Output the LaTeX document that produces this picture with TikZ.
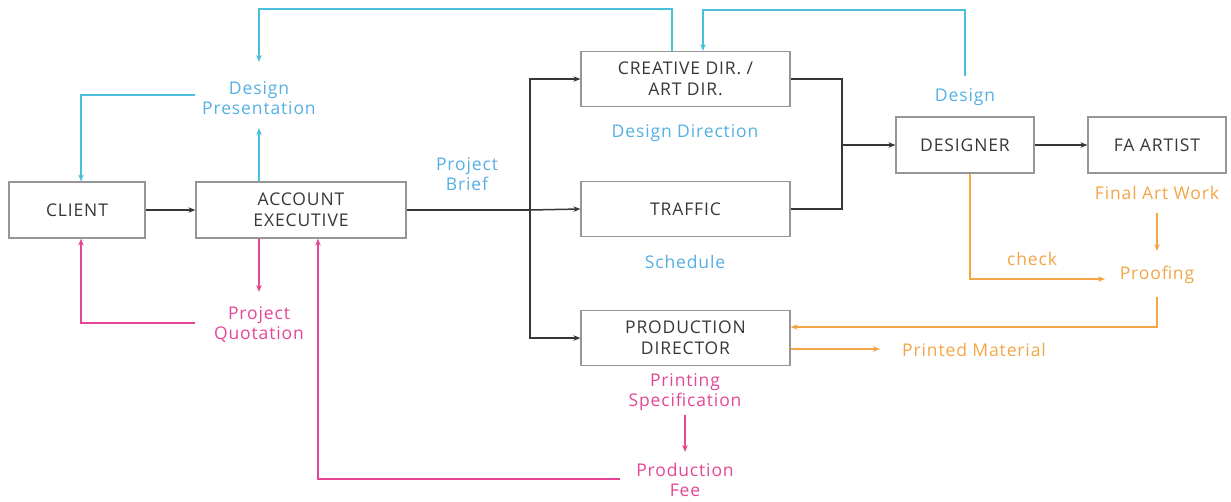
\documentclass[tikz,border=0pt]{standalone}
\usepackage{fontspec}
\setmainfont[LetterSpace=5]{Open Sans}
\usetikzlibrary{arrows.meta,calc}
\definecolor{cyl}{RGB}{75,190,220}
\definecolor{cyt}{RGB}{85,175,228}
\definecolor{pk}{RGB}{228,70,150}
\definecolor{orl}{RGB}{243,165,70}
\definecolor{bx}{RGB}{150,150,150}
\definecolor{tx}{RGB}{55,55,55}
\begin{document}
\begin{tikzpicture}[x=1pt,y=-1pt,
  box/.style={draw=bx,line width=1.2pt,text=tx,align=center,font=\fontsize{17.5}{21}\selectfont,inner sep=0pt},
  lbl/.style={align=center,font=\fontsize{17.5}{20}\selectfont,inner sep=0pt},
  arr/.style={-{Stealth[length=7pt,width=5.5pt]}},
  blk/.style={draw=tx,line width=1.5pt},
  cy/.style={draw=cyl,line width=1.5pt},
  pkl/.style={draw=pk,line width=1.5pt},
  ol/.style={draw=orl,line width=1.5pt}]
\useasboundingbox (0,0) rectangle (1231,501);
% boxes
\node[box,minimum width=136pt,minimum height=56pt] (client) at (77,210) {CLIENT};
\node[box,minimum width=210pt,minimum height=56pt] (ae) at (301,210) {ACCOUNT\\EXECUTIVE};
\node[box,minimum width=209pt,minimum height=55pt] (cd) at (685.5,79) {CREATIVE DIR. /\\ART DIR.};
\node[box,minimum width=209pt,minimum height=55pt] (tr) at (685.5,209) {TRAFFIC};
\node[box,minimum width=209pt,minimum height=55pt] (pd) at (685.5,338) {PRODUCTION\\DIRECTOR};
\node[box,minimum width=138pt,minimum height=56pt] (des) at (965,145) {DESIGNER};
\node[box,minimum width=138pt,minimum height=56pt] (fa) at (1157,145) {FA ARTIST};
% labels
\node[lbl,text=cyt] (dp) at (259,98) {Design\\Presentation};
\node[lbl,text=pk] (pq) at (259,325) {Project\\Quotation};
\node[lbl,text=cyt] (pb) at (467,174) {Project\\Brief};
\node[lbl,text=cyt] (dd) at (685,133) {Design Direction};
\node[lbl,text=cyt] (sch) at (685,262) {Schedule};
\node[lbl,text=pk] (ps) at (685,392) {Printing\\Specification};
\node[lbl,text=pk] (pf) at (685,480) {Production\\Fee};
\node[lbl,text=cyt] (dsg) at (965,97) {Design};
\node[lbl,text=orl] (faw) at (1157,193) {Final Art Work};
\node[lbl,text=orl] (pr) at (1157,275) {Proofing};
\node[lbl,text=orl] (chk) at (1032,259) {check};
\node[lbl,text=orl] (pm) at (974,350) {Printed Material};
% connector ends
\coordinate (dpB) at (259,128);
\coordinate (dpT) at (259,62);
\coordinate (dpL) at (195,95);
\coordinate (pqT) at (259,292);
\coordinate (pqL) at (195,323);
\coordinate (pbJ) at (530,210);
\coordinate (psB) at (685,415);
\coordinate (pfT) at (685,452);
\coordinate (pfL) at (620,479);
\coordinate (dsgT) at (965,76);
\coordinate (fawB) at (1157,213);
\coordinate (prT) at (1157,251);
\coordinate (prL) at (1105,279);
\coordinate (prB) at (1157,297);
\coordinate (pmL) at (880,349);
\coordinate (mj) at (842,145);
% black
\draw[blk,arr] (client) -- (ae);
\draw[blk] (ae.east) -- (pbJ);
\draw[blk,arr] (pbJ) -- (tr.west);
\draw[blk,arr] (pbJ) |- (cd.west);
\draw[blk,arr] (pbJ) |- (pd.west);
\draw[blk] (cd.east) -| (mj);
\draw[blk] (tr.east) -| (mj);
\draw[blk,arr] (mj) -- (des.west);
\draw[blk,arr] (des) -- (fa);
% cyan
\draw[cy,arr] (ae.north -| dpB) -- (dpB);
\draw[cy,arr] (dpL) -| ([xshift=4pt]client.north);
\draw[cy,arr] ([xshift=-13.5pt]cd.north) -- ++(0,-42) -| (dpT);
\draw[cy,arr] (dsgT) -- ++(0,-66) -| ([xshift=17.5pt]cd.north);
% pink
\draw[pkl,arr] (ae.south -| pqT) -- (pqT);
\draw[pkl,arr] (pqL) -| ([xshift=4pt]client.south);
\draw[pkl,arr] (pfL) -| ([xshift=17pt]ae.south);
\draw[pkl,arr] (psB) -- (pfT);
% orange
\draw[ol,arr] (fawB) -- (prT);
\draw[ol,arr] ([xshift=5pt]des.south) |- (prL);
\draw[ol,arr] (prB) |- ($(pd.east)+(0,-11)$);
\draw[ol,arr] ($(pd.east)+(0,11)$) -- (pmL);
\end{tikzpicture}
\end{document}
